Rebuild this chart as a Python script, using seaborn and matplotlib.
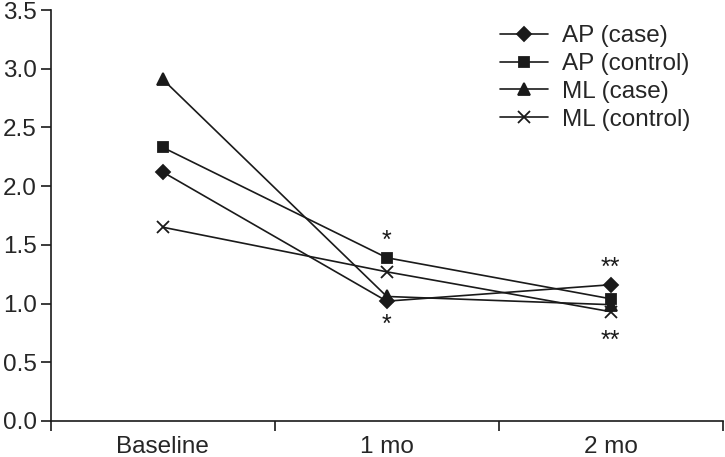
import matplotlib
matplotlib.use("Agg")
import matplotlib.pyplot as plt
import seaborn as sns
import pandas as pd

# values
timepoints = ["Baseline", "1 mo", "2 mo"]
ap_case = [2.12, 1.02, 1.16]
ap_control = [2.33, 1.39, 1.04]
ml_case = [2.91, 1.06, 0.99]
ml_control = [1.65, 1.27, 0.93]

series_names = ["AP (case)", "AP (control)", "ML (case)", "ML (control)"]
series_values = [ap_case, ap_control, ml_case, ml_control]
series_markers = ["D", "s", "^", "x"]

# significance marks: (timepoint, y, text)
star_labels = [("1 mo", 1.53, "*"), ("1 mo", 0.82, "*"),
               ("2 mo", 1.30, "**"), ("2 mo", 0.68, "**")]

rows = []
for name, vals in zip(series_names, series_values):
    for t, v in zip(timepoints, vals):
        rows.append({"time": t, "value": v, "series": name})
df = pd.DataFrame(rows)

sns.set_style("ticks")
plt.rcParams['font.family'] = ['Liberation Sans', 'DejaVu Sans']

fig = plt.figure(figsize=(7.25, 4.57), dpi=100)
ax = fig.add_axes([0.070, 0.079, 0.927, 0.899])

ink = "#1a1a1a"
msize = {"D": 7, "s": 7, "^": 8, "x": 9}
for name, mk in zip(series_names, series_markers):
    sub = df[df["series"] == name]
    sns.lineplot(data=sub, x="time", y="value", ax=ax, color=ink,
                 marker=mk, markersize=msize[mk],
                 markeredgewidth=1.3, markeredgecolor=ink, markerfacecolor=ink,
                 linewidth=1.2, sort=False, label=name)

pos = {t: i for i, t in enumerate(timepoints)}
for t, y, s in star_labels:
    ax.text(pos[t], y, s, ha="center", va="center", fontsize=18, color=ink)

ax.set_xlim(-0.5, len(timepoints) - 0.5)
ax.set_ylim(0, 3.5)
ax.set_yticks([0, 0.5, 1.0, 1.5, 2.0, 2.5, 3.0, 3.5])
ax.set_yticklabels([f"{v:.1f}" for v in ax.get_yticks()])
ax.set_xticks([i - 0.5 for i in range(len(timepoints) + 1)])
ax.set_xticklabels([])
ax.set_xticks(range(len(timepoints)), minor=True)
ax.set_xticklabels(timepoints, minor=True)
ax.tick_params(axis="x", which="minor", length=0, pad=11, labelsize=17.5)
ax.tick_params(axis="x", which="major", length=7, width=1.2, color=ink)
ax.tick_params(axis="y", length=7, width=1.2, labelsize=17.5, color=ink, pad=3)
ax.set_xlabel("")
ax.set_ylabel("")
for side in ["top", "right"]:
    ax.spines[side].set_visible(False)
for side in ["left", "bottom"]:
    ax.spines[side].set_linewidth(1.2)
    ax.spines[side].set_color(ink)

handles, labels = ax.get_legend_handles_labels()
ax.legend(handles, labels, loc="upper left", bbox_to_anchor=(0.668, 0.963),
          frameon=False, fontsize=17.5, handlelength=2.0, labelspacing=0.24,
          handletextpad=0.58, borderpad=0, borderaxespad=0)

fig.savefig("out.png", dpi=100)
